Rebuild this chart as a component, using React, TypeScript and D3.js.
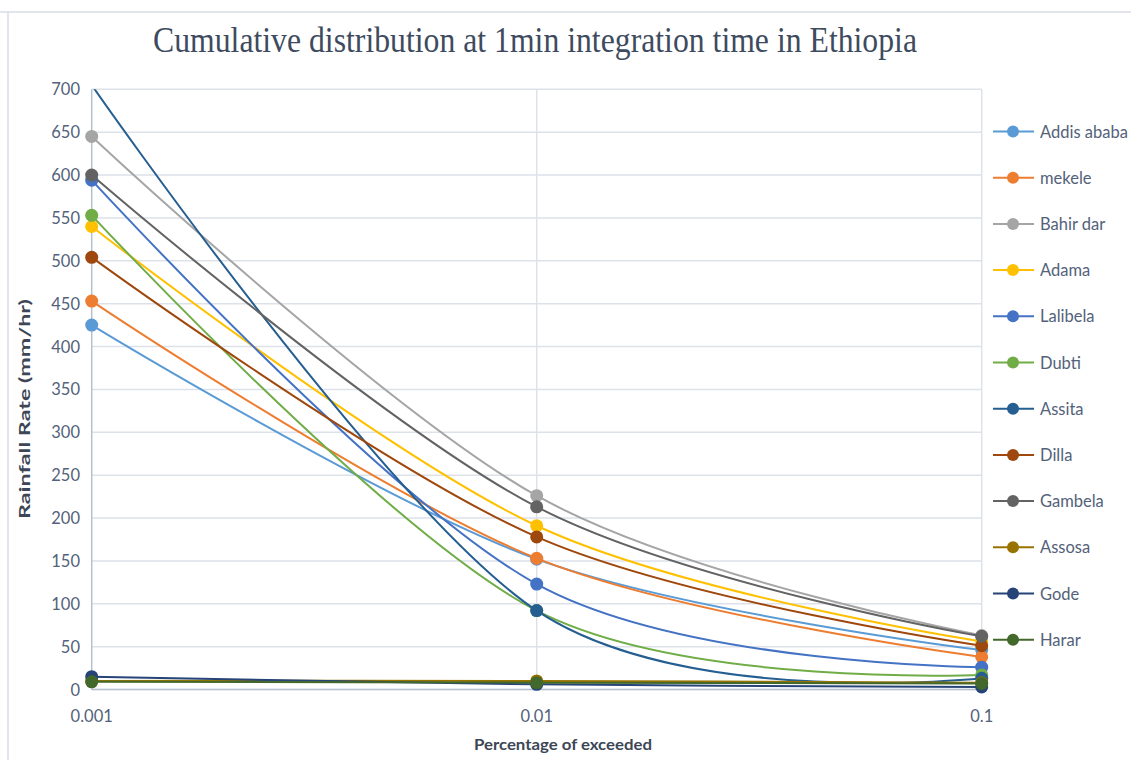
import React from "react";
import * as d3 from "d3";

// Exceedance percentages on the x axis (log scale)
const percentages = [0.001, 0.01, 0.1];

const stations = [
  "Addis ababa",
  "mekele",
  "Bahir dar",
  "Adama",
  "Lalibela",
  "Dubti",
  "Assita",
  "Dilla",
  "Gambela",
  "Assosa",
  "Gode",
  "Harar",
];

// Rainfall rate (mm/hr) at 0.001%, 0.01%, 0.1% for each station
const addisAbaba = [425, 152, 46];
const mekele = [453, 153, 38];
const bahirDar = [645, 226, 63];
const adama = [540, 191, 56];
const lalibela = [594, 123, 26];
const dubti = [553, 92, 17];
const assita = [705, 92, 13];
const dilla = [504, 178, 51];
const gambela = [600, 213, 62];
const assosa = [10, 10, 8];
const gode = [15, 6, 3];
const harar = [9, 8, 7];

const seriesValues = [
  addisAbaba,
  mekele,
  bahirDar,
  adama,
  lalibela,
  dubti,
  assita,
  dilla,
  gambela,
  assosa,
  gode,
  harar,
];

const colors = [
  "#5B9BD5",
  "#ED7D31",
  "#A5A5A5",
  "#FFC000",
  "#4472C4",
  "#70AD47",
  "#255E91",
  "#9E480E",
  "#636363",
  "#997300",
  "#264478",
  "#43682B",
];

const yTicks = d3.range(0, 701, 50);
const xTickLabels = ["0.001", "0.01", "0.1"];

const W = 1131;
const H = 760;
const plot = { left: 91.7, right: 981.7, top: 89.3, bottom: 689.5 };

const labelFont = "Lato, 'Open Sans', sans-serif";
const labelColor = "#53627a";

// Spreadsheet-style smoothed line: interior tangents follow the neighbouring
// points (Catmull-Rom, 1/6 control offset); end control points sit on the ends.
function smoothPath(pts: [number, number][]): string {
  const p = d3.path();
  if (!pts.length) return "";
  p.moveTo(pts[0][0], pts[0][1]);
  for (let i = 0; i < pts.length - 1; i++) {
    const p0 = pts[i - 1];
    const p1 = pts[i];
    const p2 = pts[i + 1];
    const p3 = pts[i + 2];
    const c1: [number, number] = p0
      ? [p1[0] + (p2[0] - p0[0]) / 6, p1[1] + (p2[1] - p0[1]) / 6]
      : [p1[0], p1[1]];
    const c2: [number, number] = p3
      ? [p2[0] - (p3[0] - p1[0]) / 6, p2[1] - (p3[1] - p1[1]) / 6]
      : [p2[0], p2[1]];
    p.bezierCurveTo(c1[0], c1[1], c2[0], c2[1], p2[0], p2[1]);
  }
  return p.toString();
}

export default function App() {
  const x = d3
    .scaleLog()
    .domain([0.001, 0.1])
    .range([plot.left, plot.right]);
  const y = d3.scaleLinear().domain([0, 700]).range([plot.bottom, plot.top]);

  const legendY = (i: number) => 131.5 + i * 46.2;

  return (
    <svg
      width={W}
      height={H}
      viewBox={`0 0 ${W} ${H}`}
      style={{ position: "fixed", left: 0, top: 0, background: "#fff" }}
    >
      <defs>
        <clipPath id="plotClip">
          <rect
            x={plot.left - 10}
            y={plot.top}
            width={plot.right - plot.left + 20}
            height={plot.bottom - plot.top + 10}
          />
        </clipPath>
      </defs>
      <rect x={0} y={0} width={W} height={H} fill="#fff" />
      {/* chart frame */}
      <line x1={0} x2={W} y1={12} y2={12} stroke="#d9dde4" strokeWidth={1.5} />
      <line x1={8} x2={8} y1={12} y2={H} stroke="#d9dde4" strokeWidth={1.5} />

      {/* title */}
      <text
        x={535}
        y={52}
        textAnchor="middle"
        fontFamily="'Liberation Serif', 'Times New Roman', serif"
        fontSize={36}
        fill="#3e4b5e"
        textLength={764}
        lengthAdjust="spacingAndGlyphs"
      >
        Cumulative distribution at 1min integration time in Ethiopia
      </text>

      {/* horizontal gridlines */}
      {yTicks.map((t) => (
        <line
          key={`g${t}`}
          x1={plot.left}
          x2={plot.right}
          y1={y(t)}
          y2={y(t)}
          stroke="#dde2ea"
          strokeWidth={1.5}
        />
      ))}
      {/* vertical gridlines */}
      {percentages.slice(1).map((p) => (
        <line
          key={`v${p}`}
          x1={x(p)}
          x2={x(p)}
          y1={plot.top}
          y2={plot.bottom}
          stroke="#dde2ea"
          strokeWidth={1.5}
        />
      ))}
      {/* axes */}
      <line
        x1={plot.left}
        x2={plot.left}
        y1={plot.top}
        y2={plot.bottom}
        stroke="#b6c0cf"
        strokeWidth={1.5}
      />
      <line
        x1={plot.left}
        x2={plot.right}
        y1={plot.bottom}
        y2={plot.bottom}
        stroke="#b6c0cf"
        strokeWidth={1.5}
      />

      {/* y tick labels */}
      {yTicks.map((t) => (
        <text
          key={`yt${t}`}
          x={80}
          y={y(t) + 6}
          textAnchor="end"
          fontFamily={labelFont}
          fontSize={16.5}
          fill={labelColor}
        >
          {t}
        </text>
      ))}
      {/* x tick labels */}
      {percentages.map((p, i) => (
        <text
          key={`xt${p}`}
          x={x(p)}
          y={722}
          textAnchor="middle"
          fontFamily={labelFont}
          fontSize={16.5}
          fill={labelColor}
        >
          {xTickLabels[i]}
        </text>
      ))}

      {/* axis titles */}
      <text
        x={563}
        y={750}
        textAnchor="middle"
        fontFamily={labelFont}
        fontWeight="bold"
        fontSize={15}
        fill="#3c4656"
        textLength={178}
        lengthAdjust="spacingAndGlyphs"
      >
        Percentage of exceeded
      </text>
      <text
        transform="translate(30,409) rotate(-90)"
        textAnchor="middle"
        fontFamily={labelFont}
        fontWeight="bold"
        fontSize={15.5}
        fill="#3c4656"
        textLength={220}
        lengthAdjust="spacingAndGlyphs"
      >
        Rainfall Rate (mm/hr)
      </text>

      {/* series */}
      <g clipPath="url(#plotClip)">
        {seriesValues.map((vals, si) => {
          const pts = percentages.map(
            (p, i) => [x(p), y(vals[i])] as [number, number]
          );
          return (
            <g key={stations[si]}>
              <path
                d={smoothPath(pts)}
                fill="none"
                stroke={colors[si]}
                strokeWidth={2}
              />
              {vals.map((v, i) =>
                v <= 700 ? (
                  <circle
                    key={i}
                    cx={x(percentages[i])}
                    cy={y(v)}
                    r={6.5}
                    fill={colors[si]}
                  />
                ) : null
              )}
            </g>
          );
        })}
      </g>

      {/* legend */}
      {stations.map((s, i) => (
        <g key={`lg${s}`}>
          <line
            x1={993}
            x2={1034}
            y1={legendY(i)}
            y2={legendY(i)}
            stroke={colors[i]}
            strokeWidth={2}
          />
          <circle cx={1013} cy={legendY(i)} r={6} fill={colors[i]} />
          <text
            x={1040}
            y={legendY(i) + 6}
            fontFamily={labelFont}
            fontSize={16.5}
            fill={labelColor}
          >
            {s}
          </text>
        </g>
      ))}
    </svg>
  );
}
